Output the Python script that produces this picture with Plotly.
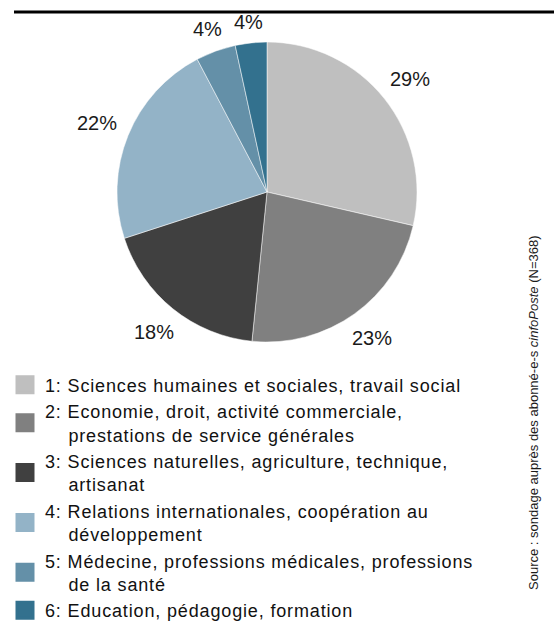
import math
import plotly.graph_objects as go

categories = [
    "1: Sciences humaines et sociales, travail social",
    "2: Economie, droit, activité commerciale,<br>\u00a0\u00a0\u00a0\u00a0prestations de service générales",
    "3: Sciences naturelles, agriculture, technique,<br>\u00a0\u00a0\u00a0\u00a0artisanat",
    "4: Relations internationales, coopération au<br>\u00a0\u00a0\u00a0\u00a0développement",
    "5: Médecine, professions médicales, professions<br>\u00a0\u00a0\u00a0\u00a0de la santé",
    "6: Education, pédagogie, formation",
]
values = [28.6, 23.0, 18.4, 22.3, 4.3, 3.4]
value_labels = ["29%", "23%", "18%", "22%", "4%", "4%"]
colors = ["#bfbfbf", "#808080", "#404040", "#93b3c7", "#6490a8", "#33718e"]

FONT = "Liberation Sans, Arial, sans-serif"
W, H = 554, 623
CX, CY, R = 267, 192, 150  # pie centre and radius in pixels
LABEL_FS = 20

fig = go.Figure()
fig.add_trace(go.Pie(
    labels=categories,
    values=values,
    textinfo="none",
    sort=False,
    direction="clockwise",
    rotation=0,
    showlegend=False,
    marker=dict(colors=colors, line=dict(color="white", width=0.5)),
    domain=dict(x=[(CX - R) / W, (CX + R) / W],
                y=[1 - (CY + R) / H, 1 - (CY - R) / H]),
    hoverinfo="label+percent",
))

# legend entries (bigger square swatches)
for cat, col in zip(categories, colors):
    fig.add_trace(go.Scatter(
        x=[None], y=[None], mode="markers", name=cat,
        marker=dict(symbol="square", size=16, color=col,
                    line=dict(color=col, width=3)),
        hoverinfo="skip",
    ))

# percentage labels placed outside each slice, from the slice mid-angle
annotations = []
total = sum(values)
cum = 0.0
for v, t in zip(values, value_labels):
    theta = 2 * math.pi * (cum + v / 2) / total
    cum += v
    hw = (0.556 * (len(t) - 1) + 0.889) * LABEL_FS / 2
    hh = 0.36 * LABEL_FS
    d = R + 12 + abs(math.sin(theta)) * hw + abs(math.cos(theta)) * hh
    px = CX + d * math.sin(theta)
    py = CY - d * math.cos(theta)
    annotations.append(dict(
        text=t, x=px / W, y=1 - py / H, xref="paper", yref="paper",
        showarrow=False, xanchor="center", yanchor="middle",
        font=dict(size=LABEL_FS, family=FONT, color="#1a1a1a"),
    ))

annotations.append(dict(
    text="Source : sondage auprès des abonné-e-s <i>cinfoPoste</i> (N=368)",
    xref="paper", yref="paper", x=534 / W, y=1 - 413 / H,
    textangle=-90, showarrow=False,
    font=dict(size=13, family=FONT, color="#1a1a1a"),
    xanchor="center", yanchor="middle",
))

fig.update_layout(
    width=W, height=H,
    margin=dict(l=0, r=0, t=0, b=0, autoexpand=False),
    paper_bgcolor="white",
    plot_bgcolor="white",
    font=dict(family=FONT, color="#111111"),
    xaxis=dict(visible=False),
    yaxis=dict(visible=False),
    showlegend=True,
    legend=dict(
        x=5 / W, y=1 - 366.5 / H, xanchor="left", yanchor="top",
        font=dict(size=18, family=FONT, color="#111111"),
        bgcolor="rgba(0,0,0,0)",
        tracegroupgap=0,
        traceorder="normal",
        itemclick=False, itemdoubleclick=False,
    ),
    shapes=[dict(type="line", xref="paper", yref="paper",
                 x0=14 / W, x1=1, y0=1 - 12 / H, y1=1 - 12 / H,
                 line=dict(color="black", width=3))],
    annotations=annotations,
)

post = (
    "document.body.style.margin='0';"
    "var s=document.createElement('style');"
    "s.textContent='.legendtext{letter-spacing:0.85px}';"
    "document.head.appendChild(s);"
    "document.querySelectorAll('.legend .scrollbox').forEach(function(e){e.removeAttribute('clip-path');});"
)
fig.write_html("out.html", post_script=post, config={"displayModeBar": False})
